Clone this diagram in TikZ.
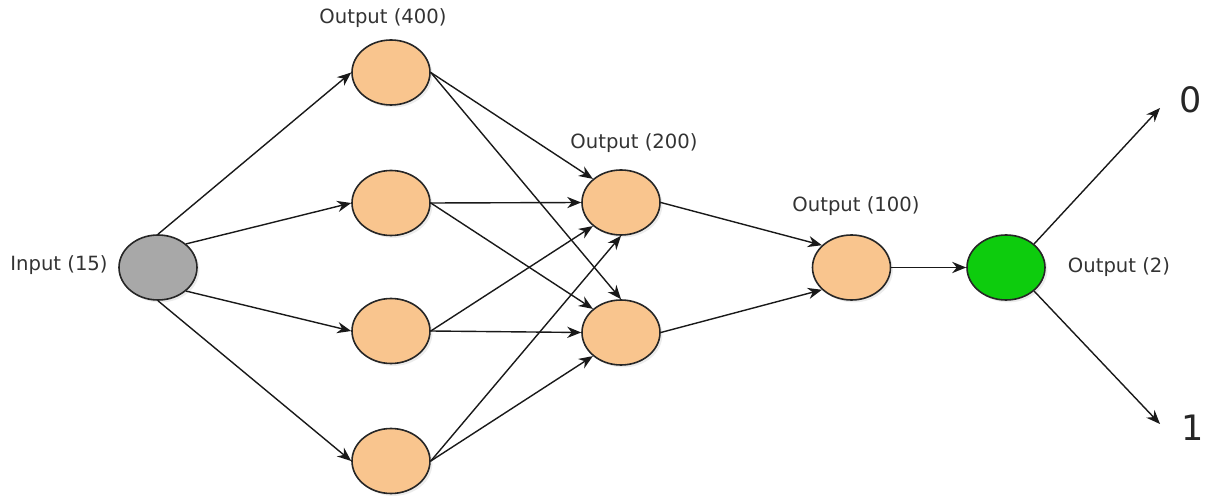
\documentclass[tikz,border=0pt]{standalone}
\usepackage{fontspec}
\setmainfont{DejaVu Sans}
\usetikzlibrary{arrows.meta,shadows,shapes.geometric}
\definecolor{peach}{HTML}{F9C58E}
\definecolor{nodegray}{HTML}{A8A8A8}
\definecolor{brightgreen}{HTML}{0DCC0D}
\definecolor{labelgray}{HTML}{333333}
\begin{document}
\begin{tikzpicture}[x=0.5pt,y=-0.5pt,
  neuron/.style={ellipse, draw=black!85, line width=0.8pt, minimum width=39pt, minimum height=32.5pt, inner sep=0pt,
    drop shadow={opacity=0.15, shadow xshift=1.2pt, shadow yshift=-1.2pt}},
  hidden/.style={neuron, fill=peach},
  inputn/.style={neuron, fill=nodegray},
  outputn/.style={neuron, fill=brightgreen},
  lbl/.style={font=\fontsize{9.8pt}{11pt}\selectfont, text=labelgray, inner sep=0pt},
  digit/.style={font=\fontsize{17.5pt}{20pt}\selectfont, text=black!85, inner sep=0pt},
  conn/.style={-{Stealth[length=7pt,width=5.6pt]}, line width=0.7pt, draw=black!90}]
\useasboundingbox (0,0) rectangle (1206,497);

% nodes
\node[inputn] (in) at (158,267.5) {};
\node[hidden] (a1) at (391,72.5) {};
\node[hidden] (a2) at (391,203) {};
\node[hidden] (a3) at (391,331) {};
\node[hidden] (a4) at (391,461) {};
\node[hidden] (b1) at (621,202.5) {};
\node[hidden] (b2) at (621,332.5) {};
\node[hidden] (c1) at (851.5,267.5) {};
\node[outputn] (o) at (1006,267.5) {};

\coordinate (t0) at (1160,108);
\coordinate (t1) at (1160,424);

% labels
\node[lbl] (lin) at (59,265) {Input (15)};
\node[lbl] (la) at (383,18) {Output (400)};
\node[lbl] (lb) at (634,143) {Output (200)};
\node[lbl] (lc) at (856,206) {Output (100)};
\node[lbl] (lo) at (1119,267) {Output (2)};
\node[digit] (d0) at (1191,100) {0};
\node[digit] (d1) at (1193,428) {1};

% connectors: input -> layer 1
\draw[conn] (in.north) -- (a1.west);
\draw[conn] (in.40) -- (a2.west);
\draw[conn] (in.-40) -- (a3.west);
\draw[conn] (in.south) -- (a4.west);

% layer 1 -> layer 2
\draw[conn] (a1.east) -- (b1.140);
\draw[conn] (a1.east) -- (b2.north);
\draw[conn] (a2.east) -- (b1.west);
\draw[conn] (a2.east) -- (b2.140);
\draw[conn] (a3.east) -- (b1.220);
\draw[conn] (a3.east) -- (b2.west);
\draw[conn] (a4.east) -- (b1.south);
\draw[conn] (a4.east) -- (b2.220);

% layer 2 -> layer 3
\draw[conn] (b1.east) -- (c1.143);
\draw[conn] (b2.east) -- (c1.217);

% layer 3 -> output
\draw[conn] (c1.east) -- (o.west);
\draw[conn] (o.40) -- (t0);
\draw[conn] (o.-40) -- (t1);
\end{tikzpicture}
\end{document}
